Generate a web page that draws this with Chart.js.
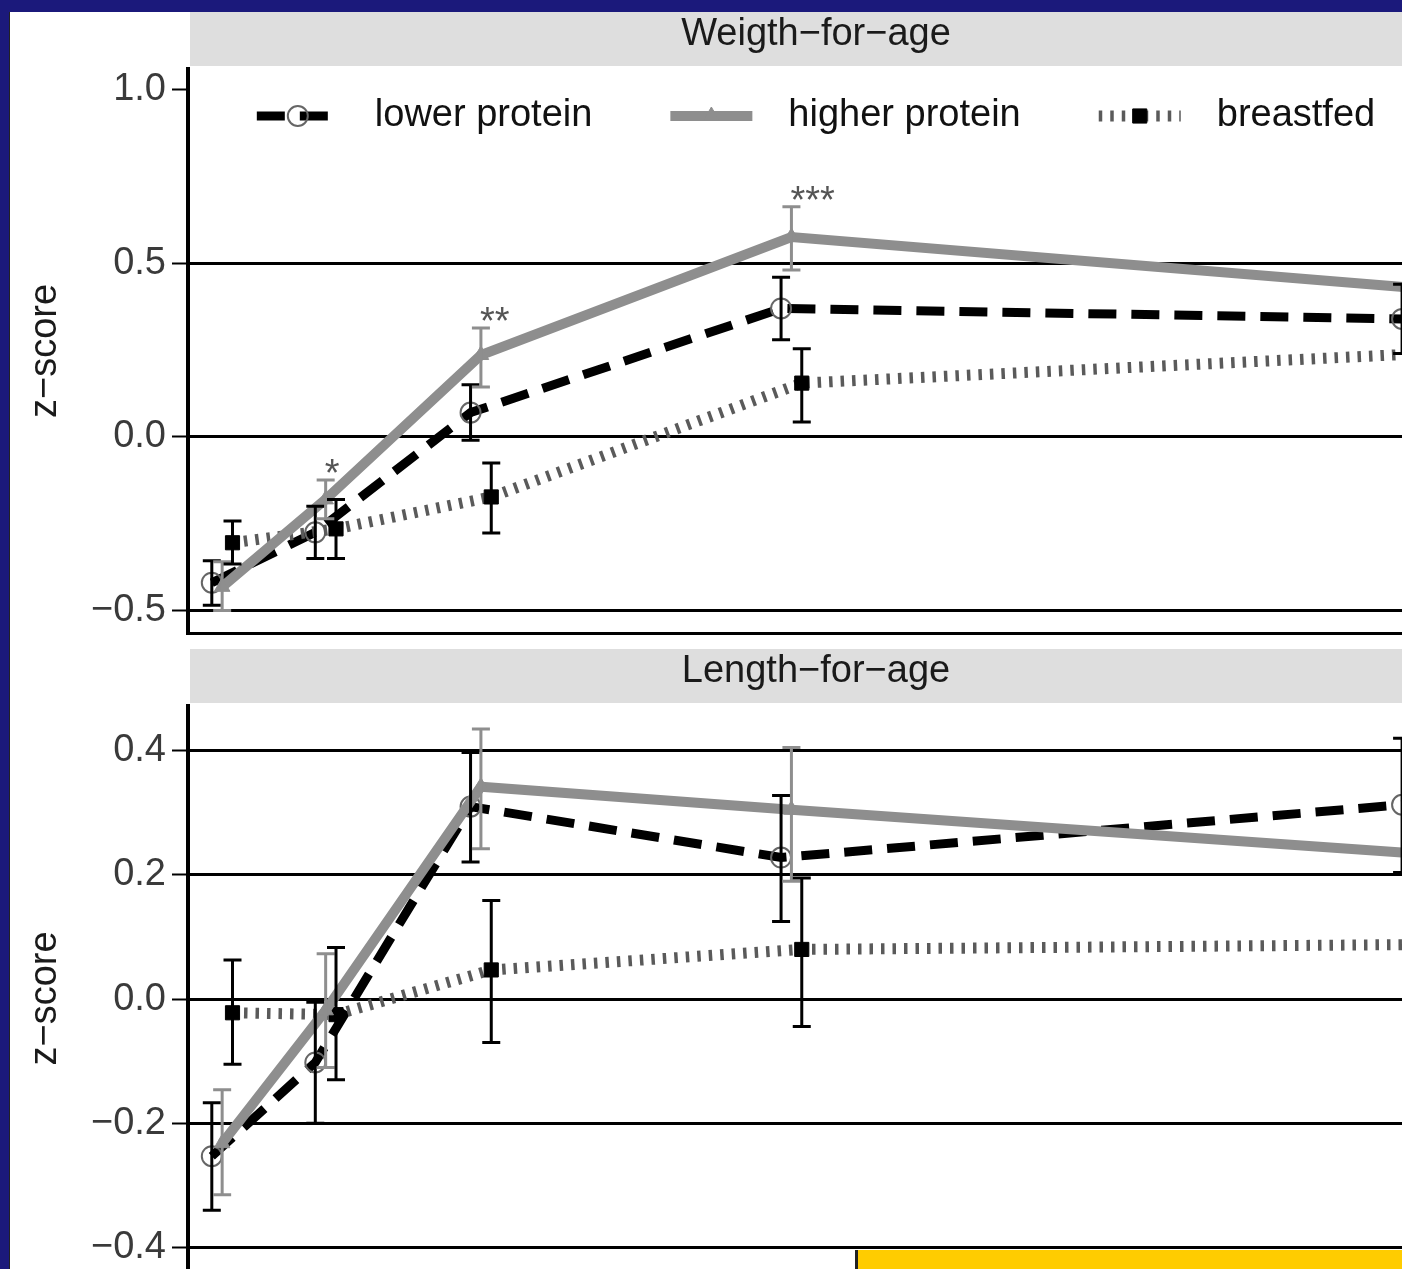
<!DOCTYPE html>
<html>
<head>
<meta charset="utf-8">
<title>z-scores by feeding group</title>
<script src="https://cdn.jsdelivr.net/npm/chart.js"></script>
<style>
  html, body { margin: 0; padding: 0; width: 1402px; height: 1269px; overflow: hidden; background: #1b197b; }
  #sheet { position: absolute; left: 9px; top: 12px; width: 1500px; height: 1400px; background: #fff; border-left: 1px solid #222; }
  .box { position: absolute; left: 0; width: 1470px; }
  #topBox { top: 0; height: 640px; }
  #bottomBox { top: 640px; height: 660px; }
  #badge { position: absolute; left: 855px; top: 1250px; width: 600px; height: 40px; background: #ffcc00; border-left: 3px solid #222; }
</style>
</head>
<body>
<div id="sheet"></div>
<div class="box" id="topBox"><canvas id="topChart"></canvas></div>
<div class="box" id="bottomBox"><canvas id="bottomChart"></canvas></div>
<div id="badge"></div>
<script>
// age in months for each visit
const months = [0.5, 1.5, 3, 6, 12];
const seriesNames = ['lower protein', 'higher protein', 'breastfed'];

// Weigth-for-age z-scores (mean, lower / upper error bar)
const wfaLower   = [-0.42, -0.275, 0.07, 0.37, 0.34];
const wfaLowerLo = [-0.485, -0.35, -0.01, 0.28, 0.24];
const wfaLowerHi = [-0.357, -0.20, 0.15, 0.46, 0.44];
const wfaHigher   = [-0.432, -0.18, 0.236, 0.576, 0.43];
const wfaHigherLo = [-0.50, -0.236, 0.144, 0.481, 0.34];
const wfaHigherHi = [-0.36, -0.124, 0.314, 0.663, 0.52];
const wfaBreast   = [-0.305, -0.265, -0.173, 0.155, 0.24];
const wfaBreastLo = [-0.366, -0.35, -0.277, 0.043, 0.13];
const wfaBreastHi = [-0.242, -0.18, -0.075, 0.254, 0.35];
const wfaStars = ['', '*', '**', '***', ''];
const wfaTicks = [-0.5, 0, 0.5, 1.0];

// Length-for-age z-scores
const lfaLower   = [-0.253, -0.102, 0.31, 0.228, 0.313];
const lfaLowerLo = [-0.34, -0.20, 0.221, 0.125, 0.204];
const lfaLowerHi = [-0.167, -0.005, 0.397, 0.328, 0.42];
const lfaHigher   = [-0.232, -0.018, 0.342, 0.305, 0.235];
const lfaHigherLo = [-0.315, -0.11, 0.242, 0.19, 0.13];
const lfaHigherHi = [-0.146, 0.073, 0.435, 0.405, 0.34];
const lfaBreast   = [-0.022, -0.025, 0.047, 0.08, 0.088];
const lfaBreastLo = [-0.105, -0.13, -0.07, -0.044, -0.03];
const lfaBreastHi = [0.063, 0.083, 0.159, 0.195, 0.2];
const lfaTicks = [-0.4, -0.2, 0, 0.2, 0.4];

const FONT = '"Liberation Sans", Arial, sans-serif';
Chart.defaults.font.family = FONT;
Chart.defaults.animation = false;

const GREY = '#8e8e8e';
const styles = [
  { borderColor: '#000', borderWidth: 9, borderDash: [28, 15], pointStyle: 'circle', pointRadius: 10,
    pointBackgroundColor: 'rgba(255,255,255,0)', pointBorderColor: '#666', pointBorderWidth: 2,
    errorColor: '#000', dodge: -0.1, order: 3 },
  { borderColor: GREY, borderWidth: 10, pointStyle: 'triangle', pointRadius: 9,
    pointBackgroundColor: GREY, pointBorderColor: GREY, pointBorderWidth: 1,
    errorColor: GREY, dodge: 0, order: 1 },
  { borderColor: '#5a5a5a', borderWidth: 11, borderDash: [3.5, 8], pointStyle: 'rect', pointRadius: 10,
    pointBackgroundColor: '#000', pointBorderColor: '#000', pointBorderWidth: 1,
    errorColor: '#000', dodge: 0.1, order: 2 }
];

function series(i, vals, lo, hi, stars) {
  const st = styles[i];
  return Object.assign({}, st, {
    label: seriesNames[i],
    data: months.map((m, k) => ({ x: m + st.dodge, y: vals[k] })),
    errLo: lo, errHi: hi, stars: stars,
    fill: false, tension: 0
  });
}

const fmt = v => (v < 0 ? '\u2212' : '') + Math.abs(v).toFixed(1);

// grey facet strip above each panel
const strip = {
  id: 'strip',
  beforeDraw(chart, args, opts) {
    const { ctx, chartArea: a } = chart;
    ctx.save();
    ctx.fillStyle = '#dedede';
    ctx.fillRect(a.left + 2, a.top - 57, a.right - a.left, 54);
    ctx.fillStyle = '#1a1a1a';
    ctx.font = '38px ' + FONT;
    ctx.textAlign = 'center';
    ctx.textBaseline = 'middle';
    ctx.fillText(opts.text, (a.left + a.right) / 2, a.top - 34);
    ctx.restore();
  }
};

const errorBars = {
  id: 'errorBars',
  afterDatasetsDraw(chart) {
    const ctx = chart.ctx, ys = chart.scales.y;
    ctx.save();
    chart.data.datasets.forEach((ds, i) => {
      if (!ds.errLo) return;
      const meta = chart.getDatasetMeta(i);
      ctx.strokeStyle = ds.errorColor;
      ctx.lineWidth = 3;
      ctx.setLineDash([]);
      meta.data.forEach((pt, k) => {
        const t = ys.getPixelForValue(ds.errHi[k]), b = ys.getPixelForValue(ds.errLo[k]);
        ctx.beginPath();
        ctx.moveTo(pt.x, t); ctx.lineTo(pt.x, b);
        ctx.moveTo(pt.x - 9, t); ctx.lineTo(pt.x + 9, t);
        ctx.moveTo(pt.x - 9, b); ctx.lineTo(pt.x + 9, b);
        ctx.stroke();
      });
      if (ds.stars) {
        ctx.fillStyle = '#555';
        ctx.font = '38px ' + FONT;
        ctx.textAlign = 'left';
        ctx.textBaseline = 'alphabetic';
        meta.data.forEach((pt, k) => {
          if (ds.stars[k]) ctx.fillText(ds.stars[k], pt.x - 1, ys.getPixelForValue(ds.errHi[k]) + 6);
        });
      }
    });
    ctx.restore();
  }
};

// legend drawn inside the top of the plot area
const insideLegend = {
  id: 'insideLegend',
  afterDraw(chart, args, opts) {
    if (!opts.show) return;
    const { ctx, chartArea: a } = chart;
    ctx.save();
    ctx.font = '38px ' + FONT;
    const items = chart.data.datasets.map(ds => ({ ds, w: ctx.measureText(ds.label).width }));
    const total = items.reduce((s, it) => s + opts.sample + opts.gap + it.w, 0) + opts.itemGap * (items.length - 1);
    let x = (a.left + a.right) / 2 - total / 2;
    const y = a.top + opts.offsetY;
    items.forEach(({ ds, w }) => {
      ctx.strokeStyle = ds.borderColor;
      ctx.lineWidth = ds.borderWidth;
      ctx.setLineDash(ds.borderDash || []);
      ctx.beginPath();
      ctx.moveTo(x, y); ctx.lineTo(x + opts.sample, y);
      ctx.stroke();
      ctx.setLineDash([]);
      ctx.fillStyle = ds.pointBackgroundColor;
      ctx.strokeStyle = ds.pointBorderColor;
      ctx.lineWidth = ds.pointBorderWidth;
      Chart.helpers.drawPoint(ctx, { pointStyle: ds.pointStyle, radius: ds.pointRadius, rotation: 0, borderWidth: ds.pointBorderWidth },
        x + opts.sample / 2, y);
      ctx.fillStyle = '#111';
      ctx.textAlign = 'left';
      ctx.textBaseline = 'middle';
      ctx.fillText(ds.label, x + opts.sample + opts.gap, y);
      x += opts.sample + opts.gap + w + opts.itemGap;
    });
    ctx.restore();
  }
};

function panel(id, p) {
  return new Chart(document.getElementById(id), {
    type: 'line',
    data: { datasets: p.datasets },
    plugins: [strip, errorBars, insideLegend],
    options: {
      responsive: true,
      maintainAspectRatio: false,
      layout: { padding: p.padding, autoPadding: false },
      plugins: {
        legend: { display: false },
        tooltip: { enabled: false },
        strip: { text: p.title },
        insideLegend: { show: p.legend, sample: 82, gap: 36, itemGap: 78, offsetY: 47 }
      },
      scales: {
        x: {
          type: 'linear', min: 0.17, max: 12.305,
          display: p.xLine,
          grid: { display: false, drawTicks: false },
          ticks: { display: false },
          border: { display: true, color: '#000', width: 3 },
          afterFit(s) { s.height = 0; s.paddingLeft = 0; s.paddingRight = 0; }
        },
        y: {
          min: p.min, max: p.max,
          afterBuildTicks(s) { s.ticks = p.ticks.map(v => ({ value: v })); },
          afterFit(s) { s.width = 188; s.paddingTop = 0; s.paddingBottom = 0; },
          grid: {
            color: c => (c.tick && p.hideGrid.includes(c.tick.value)) ? 'rgba(0,0,0,0)' : '#000',
            lineWidth: 3, tickColor: '#000', tickWidth: 2, tickLength: 16
          },
          border: { color: '#000', width: 4 },
          ticks: { callback: fmt, color: '#3a3a3a', padding: 6, font: { size: 38 } },
          title: { display: true, text: 'z\u2212score', color: '#1a1a1a', font: { size: 38, lineHeight: 1 }, padding: { top: 27, bottom: 0 } }
        }
      }
    }
  });
}

panel('topChart', {
  title: 'Weigth\u2212for\u2212age',
  legend: true, xLine: true,
  min: -0.565, max: 1.06, ticks: wfaTicks, hideGrid: [1],
  padding: { top: 69, right: 26, bottom: 7, left: 0 },
  datasets: [
    series(0, wfaLower, wfaLowerLo, wfaLowerHi),
    series(1, wfaHigher, wfaHigherLo, wfaHigherHi, wfaStars),
    series(2, wfaBreast, wfaBreastLo, wfaBreastHi)
  ]
});

panel('bottomChart', {
  title: 'Length\u2212for\u2212age',
  legend: false, xLine: false,
  min: -0.47, max: 0.472, ticks: lfaTicks, hideGrid: [],
  padding: { top: 66, right: 26, bottom: 9, left: 0 },
  datasets: [
    series(0, lfaLower, lfaLowerLo, lfaLowerHi),
    series(1, lfaHigher, lfaHigherLo, lfaHigherHi),
    series(2, lfaBreast, lfaBreastLo, lfaBreastHi)
  ]
});
</script>
</body>
</html>
